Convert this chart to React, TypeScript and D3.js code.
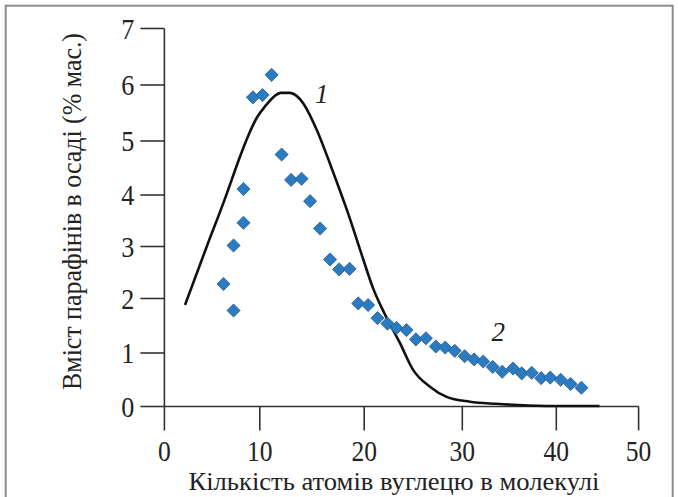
import React, { useEffect, useRef } from "react";
import * as d3 from "d3";

// Series 2 (diamonds): carbon number vs paraffin content in the deposit
const carbonNumbers = [6.2, 7.25, 7.25, 8.29, 8.29, 9.28, 10.26, 11.13, 12.09, 13.0, 14.0, 14.82, 15.78, 16.73, 17.6, 18.6, 19.43, 20.4, 21.36, 22.37, 23.3, 24.31, 25.27, 26.29, 27.3, 28.26, 29.23, 30.25, 31.26, 32.23, 33.24, 34.25, 35.4, 36.32, 37.38, 38.39, 39.36, 40.53, 41.74, 43.05];
const paraffinContent = [2.28, 1.78, 3.02, 3.46, 4.11, 5.78, 5.82, 6.18, 4.75, 4.28, 4.3, 3.88, 3.35, 2.75, 2.56, 2.57, 1.91, 1.88, 1.64, 1.54, 1.46, 1.42, 1.25, 1.27, 1.12, 1.1, 1.04, 0.94, 0.88, 0.84, 0.74, 0.65, 0.71, 0.62, 0.63, 0.53, 0.54, 0.5, 0.42, 0.35];

// Series 1 (solid curve)
const curveCarbon = [2.16, 4.5, 6.35, 7.05, 7.9, 8.8, 9.7, 10.6, 11.4, 12.0, 12.9, 13.5, 14.17, 15.45, 16.74, 17.3, 18.5, 19.75, 20.9, 22.0, 23.65, 25.0, 26.7, 28.4, 30.8, 33.6, 37, 41, 45.25];
const curveContent = [1.88, 3.03, 3.93, 4.28, 4.7, 5.1, 5.42, 5.64, 5.8, 5.86, 5.86, 5.81, 5.67, 5.2, 4.57, 4.28, 3.62, 2.85, 2.2, 1.75, 1.18, 0.68, 0.37, 0.18, 0.09, 0.05, 0.02, 0.01, 0.01];

const xTicks = [0, 10, 20, 30, 40, 50];
const yTicks = [0, 1, 2, 3, 4, 5, 6, 7];

const xTitle = "Кількість атомів вуглецю в молекулі";
const yTitle = "Вміст парафінів в осаді (% мас.)";
const labelTexts = ["1", "2"];
const labelX = [15.93, 33.83];
const labelY = [5.85, 1.4];

const W = 678;
const H = 497;
const xRange = [164.4, 259.8, 364.2, 462.3, 556.3, 638.6];
const yRange = [406.5, 353, 298.5, 246.5, 195, 141, 85, 28.5];
const SERIF = '"Liberation Serif"';

export default function App() {
  const ref = useRef<SVGSVGElement | null>(null);

  useEffect(() => {
    const svg = d3.select(ref.current);
    svg.selectAll("*").remove();

    const x = d3.scaleLinear().domain(xTicks).range(xRange);
    const y = d3.scaleLinear().domain(yTicks).range(yRange);
    const x0 = x(0);
    const y0 = y(0);
    const axisColor = "#333";

    svg
      .append("rect")
      .attr("x", 5.7)
      .attr("y", 5.7)
      .attr("width", 667)
      .attr("height", 600)
      .attr("fill", "#fff")
      .attr("stroke", "#8c8c8c")
      .attr("stroke-width", 2);

    const g = svg.append("g").style("font-family", SERIF).attr("fill", "#222");

    g.append("line")
      .attr("x1", x0).attr("x2", x0).attr("y1", y(7)).attr("y2", y0)
      .attr("stroke", axisColor).attr("stroke-width", 1.6);
    g.append("line")
      .attr("x1", x0).attr("x2", x(50)).attr("y1", y0).attr("y2", y0)
      .attr("stroke", axisColor).attr("stroke-width", 1.6);

    const yt = g.selectAll("g.yt").data(yTicks).join("g").attr("class", "yt");
    yt.append("line")
      .attr("x1", x0 - 24).attr("x2", x0)
      .attr("y1", (d) => y(d)).attr("y2", (d) => y(d))
      .attr("stroke", axisColor).attr("stroke-width", 1.6);
    yt.append("text")
      .attr("transform", (d) => `translate(${x0 - 30},${y(d)}) scale(0.9,1)`)
      .attr("dy", "0.35em")
      .attr("text-anchor", "end")
      .style("font-family", SERIF)
      .style("font-size", "29px")
      .text((d) => String(d));

    const xt = g.selectAll("g.xt").data(xTicks).join("g").attr("class", "xt");
    xt.append("line")
      .attr("x1", (d) => x(d)).attr("x2", (d) => x(d))
      .attr("y1", y0).attr("y2", y0 + 24)
      .attr("stroke", axisColor).attr("stroke-width", 1.6);
    xt.append("text")
      .attr("transform", (d) => `translate(${x(d)},460.5) scale(0.88,1)`)
      .attr("text-anchor", "middle")
      .style("font-family", SERIF)
      .style("font-size", "29px")
      .text((d) => String(d));

    g.append("text")
      .attr("x", 394)
      .attr("y", 490)
      .attr("text-anchor", "middle")
      .style("font-family", SERIF)
      .style("font-size", "26px")
      .attr("textLength", 411)
      .attr("lengthAdjust", "spacingAndGlyphs")
      .text(xTitle);

    g.append("text")
      .attr("transform", "translate(80.5, 211.5) rotate(-90)")
      .attr("text-anchor", "middle")
      .style("font-family", SERIF)
      .style("font-size", "28px")
      .attr("textLength", 357)
      .attr("lengthAdjust", "spacingAndGlyphs")
      .text(yTitle);

    const line = d3
      .line<number>()
      .x((d) => x(d))
      .y((_, i) => y(curveContent[i]))
      .curve(d3.curveMonotoneX);

    svg
      .append("path")
      .attr("d", line(curveCarbon) || "")
      .attr("fill", "none")
      .attr("stroke", "#111")
      .attr("stroke-width", 2.6)
      .attr("stroke-linejoin", "round");

    const diamond = d3.symbol().type(d3.symbolSquare).size(86)() as string;
    svg
      .append("g")
      .selectAll("path")
      .data(carbonNumbers)
      .join("path")
      .attr("d", diamond)
      .attr("transform", (c, i) => `translate(${x(c)},${y(paraffinContent[i])}) rotate(45)`)
      .attr("fill", "#2a7bc1")
      .attr("stroke", "#2c5f8c")
      .attr("stroke-width", 0.8);

    svg
      .append("g")
      .selectAll("text")
      .data(labelTexts)
      .join("text")
      .attr("x", (_, i) => x(labelX[i]))
      .attr("y", (_, i) => y(labelY[i]))
      .attr("dy", "0.35em")
      .attr("text-anchor", "middle")
      .attr("fill", "#222")
      .style("font-family", SERIF)
      .style("font-size", "27px")
      .style("font-style", "italic")
      .text((d) => d);
  }, []);

  return (
    <svg
      ref={ref}
      width={W}
      height={H}
      style={{ position: "fixed", left: 0, top: 0, background: "#fff" }}
    />
  );
}
